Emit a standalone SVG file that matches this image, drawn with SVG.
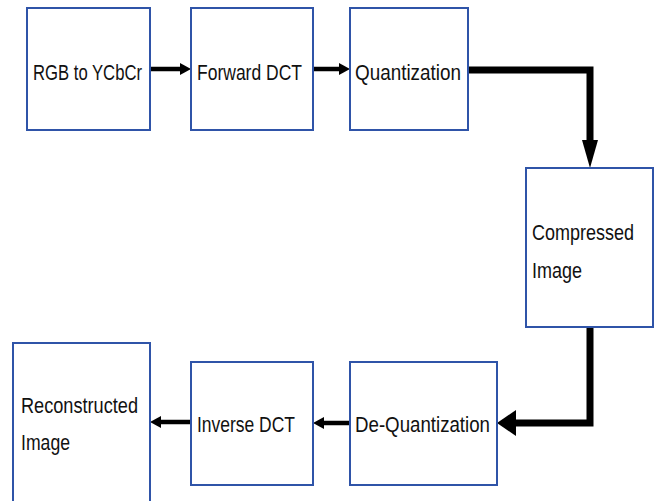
<svg xmlns="http://www.w3.org/2000/svg" width="657" height="501" viewBox="0 0 657 501">
<defs>
<style>
.box{fill:#fff;stroke:#2f54a8;stroke-width:2}
.t{font-family:"Liberation Sans Narrow","Liberation Sans",Arial,sans-serif;font-size:22px;fill:#111}
.thin{fill:none;stroke:#000;stroke-width:4.5}
.thick{fill:none;stroke:#000;stroke-width:7;stroke-linejoin:miter}
</style>
</defs>
<rect width="657" height="501" fill="#fff"/>
<g id="connectors">
<line class="thin" x1="150" y1="69" x2="181" y2="69"/>
<polygon points="180,63 191,69 180,75"/>
<line class="thin" x1="313" y1="69" x2="340" y2="69"/>
<polygon points="339,63 350,69 339,75"/>
<polyline class="thick" points="468,70 590,70 590,142"/>
<polygon points="582,140 598,140 590,168"/>
<polyline class="thick" points="590,327 590,423 514,423"/>
<polygon points="516,410 516,436 497,423"/>
<line class="thin" x1="349" y1="423" x2="323" y2="423"/>
<polygon points="324,417 313,423 324,429"/>
<line class="thin" x1="191" y1="422" x2="160" y2="422"/>
<polygon points="161,416 150,422 161,428"/>
</g>
<g id="rgb"><rect class="box" x="27" y="8" width="123" height="122"/><text class="t" x="33" y="80" textLength="109" lengthAdjust="spacingAndGlyphs">RGB to YCbCr</text></g>
<g id="fdct"><rect class="box" x="191" y="8" width="122" height="122"/><text class="t" x="197" y="80" textLength="105" lengthAdjust="spacingAndGlyphs">Forward DCT</text></g>
<g id="quant"><rect class="box" x="350" y="8" width="118" height="122"/><text class="t" x="355" y="80" textLength="106" lengthAdjust="spacingAndGlyphs">Quantization</text></g>
<g id="compressed"><rect class="box" x="526" y="168" width="127" height="159"/><text class="t" x="532" y="240" textLength="102" lengthAdjust="spacingAndGlyphs">Compressed</text><text class="t" x="532" y="278" textLength="50" lengthAdjust="spacingAndGlyphs">Image</text></g>
<g id="dequant"><rect class="box" x="350" y="362" width="147" height="123"/><text class="t" x="355" y="432" textLength="135" lengthAdjust="spacingAndGlyphs">De-Quantization</text></g>
<g id="idct"><rect class="box" x="191" y="362" width="122" height="123"/><text class="t" x="197" y="432" textLength="98" lengthAdjust="spacingAndGlyphs">Inverse DCT</text></g>
<g id="recon"><rect class="box" x="13" y="343" width="137" height="170"/><text class="t" x="21" y="413" textLength="117" lengthAdjust="spacingAndGlyphs">Reconstructed</text><text class="t" x="21" y="450" textLength="49" lengthAdjust="spacingAndGlyphs">Image</text></g>
</svg>
